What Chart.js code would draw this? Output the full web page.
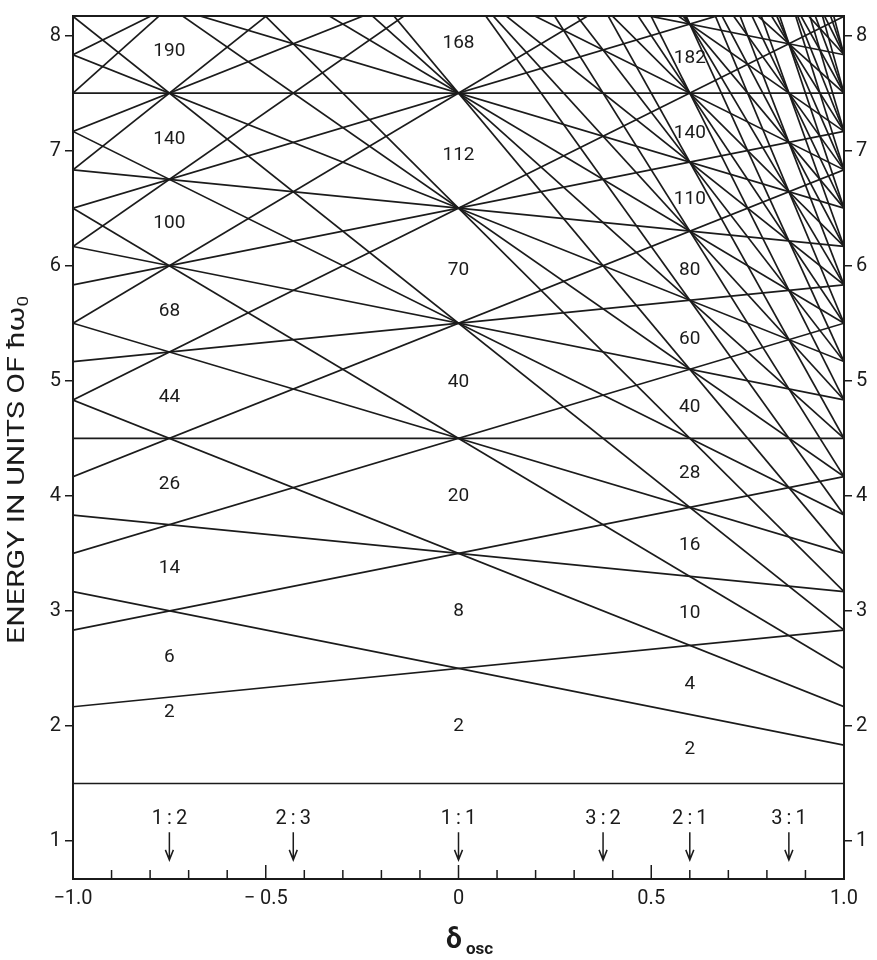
<!DOCTYPE html>
<html>
<head>
<meta charset="utf-8">
<script src="https://cdn.jsdelivr.net/npm/chart.js@4.4.1/dist/chart.umd.min.js"></script>
<style>
  html, body { margin: 0; padding: 0; background: #fff; }
  canvas { display: block; }
</style>
</head>
<body>
<canvas id="levelChart" width="877" height="960"></canvas>
<script>
// energy of each level at delta = -1 (leftE) and delta = +1 (rightE), units of hbar*omega0
// grouped by oscillator shell N = 0, 1, 2, ...
const leftE = [
  1.5,
  2.167, 3.167,
  2.833, 3.833, 4.833,
  3.5, 4.5, 5.5, 6.5,
  4.167, 5.167, 6.167, 7.167, 8.167,
  4.833, 5.833, 6.833, 7.833, 8.833, 9.833,
  5.5, 6.5, 7.5, 8.5, 9.5, 10.5, 11.5,
  6.167, 7.167, 9.167, 10.167, 11.167, 12.167, 13.167,
  6.833, 7.833, 11.833, 12.833, 13.833, 14.833,
  7.5, 13.5, 14.5, 15.5, 16.5,
  15.167, 16.167, 17.167, 18.167,
  17.833, 18.833, 19.833,
  19.5, 20.5, 21.5,
  21.167, 22.167, 23.167,
  23.833, 24.833,
  25.5, 26.5,
  27.167, 28.167,
  29.833,
  31.5,
  33.167
];
const rightE = [
  1.5,
  2.833, 1.833,
  4.167, 3.167, 2.167,
  5.5, 4.5, 3.5, 2.5,
  6.833, 5.833, 4.833, 3.833, 2.833,
  8.167, 7.167, 6.167, 5.167, 4.167, 3.167,
  9.5, 8.5, 7.5, 6.5, 5.5, 4.5, 3.5,
  10.833, 9.833, 7.833, 6.833, 5.833, 4.833, 3.833,
  12.167, 11.167, 7.167, 6.167, 5.167, 4.167,
  13.5, 7.5, 6.5, 5.5, 4.5,
  7.833, 6.833, 5.833, 4.833,
  7.167, 6.167, 5.167,
  7.5, 6.5, 5.5,
  7.833, 6.833, 5.833,
  7.167, 6.167,
  7.5, 6.5,
  7.833, 6.833,
  7.167,
  7.5,
  7.833
];

// shell closure numbers written in the gaps
const oblateDelta = -0.75;
const oblateNumbers = ["2", "6", "14", "26", "44", "68", "100", "140", "190"];
const oblateEnergy = [2.12, 2.6, 3.37, 4.1, 4.86, 5.6, 6.37, 7.1, 7.86];

const sphereDelta = 0;
const sphereNumbers = ["2", "8", "20", "40", "70", "112", "168"];
const sphereEnergy = [2.0, 3.0, 4.0, 4.99, 5.96, 6.96, 7.93];

const prolateDelta = 0.6;
const prolateNumbers = ["2", "4", "10", "16", "28", "40", "60", "80", "110", "140", "182"];
const prolateEnergy = [1.8, 2.36, 2.98, 3.57, 4.2, 4.77, 5.36, 5.96, 6.58, 7.15, 7.8];

// axis ratio markers
const ratioLabels = ["1:2", "2:3", "1:1", "3:2", "2:1", "3:1"];
const ratioDelta = [-0.75, -0.4286, 0, 0.375, 0.6, 0.857];

const yTicks = [1, 2, 3, 4, 5, 6, 7, 8];

const INK = "#1b1b1b";
const FONT = "Roboto, 'Liberation Sans', sans-serif";

const datasets = leftE.map((e, i) => ({
  data: [{ x: -1, y: e }, { x: 1, y: rightE[i] }],
  showLine: true,
  borderColor: INK,
  borderWidth: 1.7,
  pointRadius: 0,
  fill: false
}));

function drawColumn(ctx, x, y, delta, labels, energies) {
  labels.forEach((t, i) => {
    ctx.fillText(t, x.getPixelForValue(delta), y.getPixelForValue(energies[i]));
  });
}

const decorations = {
  id: "decorations",
  afterDraw(chart) {
    const { ctx, chartArea: a, scales: { x, y } } = chart;
    ctx.save();
    ctx.strokeStyle = INK;
    ctx.fillStyle = INK;

    // frame
    ctx.lineWidth = 2;
    ctx.strokeRect(a.left, a.top, a.right - a.left, a.bottom - a.top);

    // inward ticks on the delta axis
    ctx.lineWidth = 1.5;
    x.ticks.forEach(t => {
      const k = Math.round(t.value * 10);
      if (Math.abs(k) === 10) return;
      const px = x.getPixelForValue(t.value);
      ctx.beginPath();
      ctx.moveTo(px, a.bottom);
      ctx.lineTo(px, a.bottom - (k % 5 === 0 ? 14 : 9));
      ctx.stroke();
    });

    // magic numbers
    ctx.font = "19px " + FONT;
    ctx.textAlign = "center";
    ctx.textBaseline = "middle";
    drawColumn(ctx, x, y, oblateDelta, oblateNumbers, oblateEnergy);
    drawColumn(ctx, x, y, sphereDelta, sphereNumbers, sphereEnergy);
    drawColumn(ctx, x, y, prolateDelta, prolateNumbers, prolateEnergy);

    // ratio arrows
    ctx.font = "20px " + FONT;
    ratioLabels.forEach((t, i) => {
      const px = x.getPixelForValue(ratioDelta[i]);
      ctx.fillText(t.replace(":", "\u2009:\u2009"), px, y.getPixelForValue(1.195));
      const top = y.getPixelForValue(1.076);
      const tip = y.getPixelForValue(0.836);
      ctx.lineWidth = 1.5;
      ctx.beginPath();
      ctx.moveTo(px, top);
      ctx.lineTo(px, tip);
      ctx.moveTo(px - 4, tip - 10);
      ctx.lineTo(px, tip);
      ctx.lineTo(px + 4, tip - 10);
      ctx.stroke();
    });

    // y title, stretched to the length it has in the figure
    const main = "ENERGY IN UNITS OF \u0127\u03c9";
    ctx.save();
    ctx.font = "24px " + FONT;
    const w0 = ctx.measureText(main).width;
    ctx.font = "15px " + FONT;
    const ws = ctx.measureText("0").width;
    const sx = 348 / (w0 + ws);
    ctx.translate(18, 470);
    ctx.rotate(-Math.PI / 2);
    ctx.scale(sx, 1);
    ctx.textAlign = "left";
    ctx.textBaseline = "middle";
    const start = -(w0 + ws) / 2;
    ctx.font = "24px " + FONT;
    ctx.fillText(main, start, 0);
    ctx.font = "15px " + FONT;
    ctx.fillText("0", start + w0, 6);
    ctx.restore();

    // x title
    ctx.textAlign = "left";
    ctx.textBaseline = "alphabetic";
    ctx.font = "bold 28px " + FONT;
    ctx.fillText("\u03b4", 446, 948);
    ctx.font = "bold 17px " + FONT;
    ctx.fillText("osc", 466, 954);

    ctx.restore();
  }
};

new Chart(document.getElementById("levelChart"), {
  type: "scatter",
  data: { datasets },
  options: {
    responsive: false,
    animation: false,
    events: [],
    layout: { padding: { top: 8, left: 0, right: 0, bottom: 0 } },
    plugins: { legend: { display: false }, tooltip: { enabled: false } },
    scales: {
      x: {
        type: "linear",
        min: -1,
        max: 1,
        afterFit: s => { s.height = 81; },
        grid: { display: false, drawTicks: false },
        border: { display: false },
        ticks: {
          stepSize: 0.1,
          autoSkip: false,
          maxRotation: 0,
          padding: 8,
          color: INK,
          font: { family: FONT, size: 20 },
          callback: v => {
            const k = Math.round(v * 10);
            if (k % 5 !== 0) return "";
            if (k === 0) return "0";
            const s = (Math.abs(k) / 10).toFixed(1);
            return k < 0 ? (Math.abs(k) === 5 ? "\u2212 " + s : "\u2212" + s) : s;
          }
        }
      },
      y: {
        type: "linear",
        position: "left",
        min: 0.67,
        max: 8.17,
        afterBuildTicks: s => { s.ticks = yTicks.map(v => ({ value: v })); },
        afterFit: s => { s.width = 73; },
        grid: { drawOnChartArea: false, drawTicks: true, tickLength: 8, color: INK, lineWidth: 1.5 },
        border: { display: false },
        ticks: { color: INK, padding: 4, font: { family: FONT, size: 20 } }
      },
      y2: {
        type: "linear",
        position: "right",
        min: 0.67,
        max: 8.17,
        afterBuildTicks: s => { s.ticks = yTicks.map(v => ({ value: v })); },
        afterFit: s => { s.width = 33; },
        grid: { drawOnChartArea: false, drawTicks: true, tickLength: 8, color: INK, lineWidth: 1.5 },
        border: { display: false },
        ticks: { color: INK, padding: 4, font: { family: FONT, size: 20 } }
      }
    }
  },
  plugins: [decorations]
});
</script>
</body>
</html>
